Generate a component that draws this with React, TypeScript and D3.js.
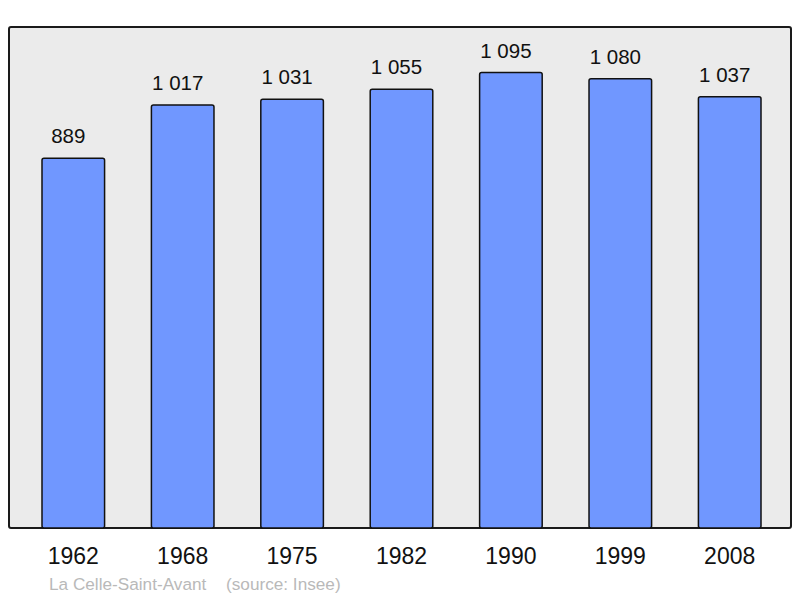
import React from "react";
import * as d3 from "d3";

const years = ["1962", "1968", "1975", "1982", "1990", "1999", "2008"];
const population = [889, 1017, 1031, 1055, 1095, 1080, 1037];
const valueLabels = ["889", "1 017", "1 031", "1 055", "1 095", "1 080", "1 037"];
const footerName = "La Celle-Saint-Avant";
const footerSource = "(source: Insee)";

export default function App() {
  const W = 800, H = 598;
  const box = { x: 9, y: 27, w: 782, h: 501 };
  const xb = d3.scaleBand<string>().domain(years).range([42, 761]).paddingInner(0.428).paddingOuter(0);
  const y = d3.scaleLinear().domain([0, 1095 * 1.1]).range([box.y + box.h, box.y]);
  const font = "'Liberation Sans', Arial, sans-serif";
  return (
    <svg width={W} height={H} style={{ position: "absolute", left: 0, top: 0 }} fontFamily={font}>
      <rect x={box.x} y={box.y} width={box.w} height={box.h} rx={2} fill="#ebebeb" stroke="#1a1a1a" strokeWidth={2} />
      {years.map((yr, i) => {
        const bx = xb(yr)!;
        const bw = xb.bandwidth();
        const top = y(population[i]);
        return (
          <g key={yr}>
            <rect x={bx} y={top} width={bw} height={box.y + box.h - top} rx={2} fill="#7097ff" stroke="#111" strokeWidth={1.5} />
            <text x={bx + bw / 2 - 5} y={top - 15} textAnchor="middle" fontSize={20.5} fill="#111">{valueLabels[i]}</text>
            <text x={bx + bw / 2} y={564} textAnchor="middle" fontSize={23} fill="#111">{yr}</text>
          </g>
        );
      })}
      <text x={49} y={590} fontSize={17.2} fill="#b9b9b9">{footerName}</text>
      <text x={226} y={590} fontSize={17.2} fill="#b9b9b9">{footerSource}</text>
    </svg>
  );
}
